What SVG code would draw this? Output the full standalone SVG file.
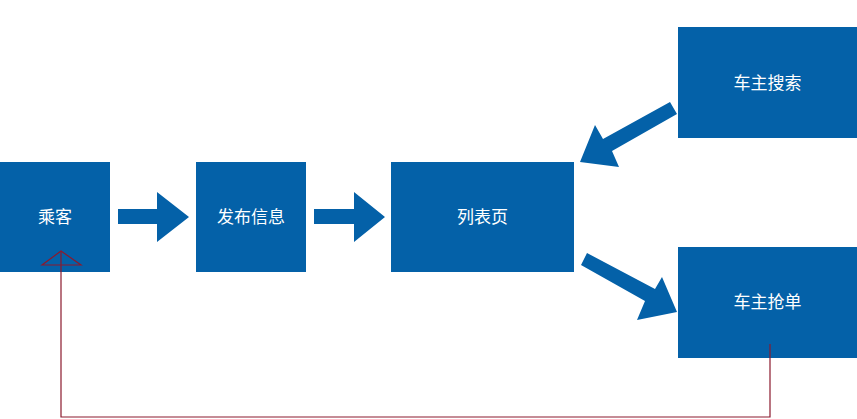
<svg xmlns="http://www.w3.org/2000/svg" width="857" height="419" viewBox="0 0 857 419">
<style>
.box{fill:#0461A8}
.lbl{fill:#ffffff;font-family:"Liberation Sans","Noto Sans CJK SC",sans-serif;font-size:17px;text-anchor:middle;dominant-baseline:central}
.arr{fill:#0461A8}
.ret{fill:none;stroke:#8B1A2E;stroke-width:1.2}
</style>
<rect width="857" height="419" fill="#ffffff"/>
<g id="passenger"><rect class="box" x="0" y="162" width="110" height="110"/><text class="lbl" x="55" y="217">乘客</text></g>
<g id="publish"><rect class="box" x="196" y="162" width="110" height="110"/><text class="lbl" x="251" y="217">发布信息</text></g>
<g id="list"><rect class="box" x="391" y="162" width="183" height="110"/><text class="lbl" x="482.5" y="217">列表页</text></g>
<g id="search"><rect class="box" x="678" y="27" width="179" height="111"/><text class="lbl" x="767.5" y="83">车主搜索</text></g>
<g id="grab"><rect class="box" x="678" y="247" width="179" height="111"/><text class="lbl" x="767.5" y="302">车主抢单</text></g>
<g id="connectors">
<polygon class="arr" points="118,209 157,209 157,192 189,217 157,242 157,224 118,224"/>
<polygon class="arr" points="314,209 354,209 354,192 385,217 354,242 354,224 314,224"/>
<polygon class="arr" points="670,102 677,114 612,151 619,167 580,162 595,125 603,139"/>
<polygon class="arr" points="587,253 581,265 645,301 637,320 677,312 662,277 655,289"/>
<polyline class="ret" points="770,344 770,417 61,417 61,251"/>
<polygon class="ret" points="61,251 42,265 81,265"/>
</g>
</svg>
